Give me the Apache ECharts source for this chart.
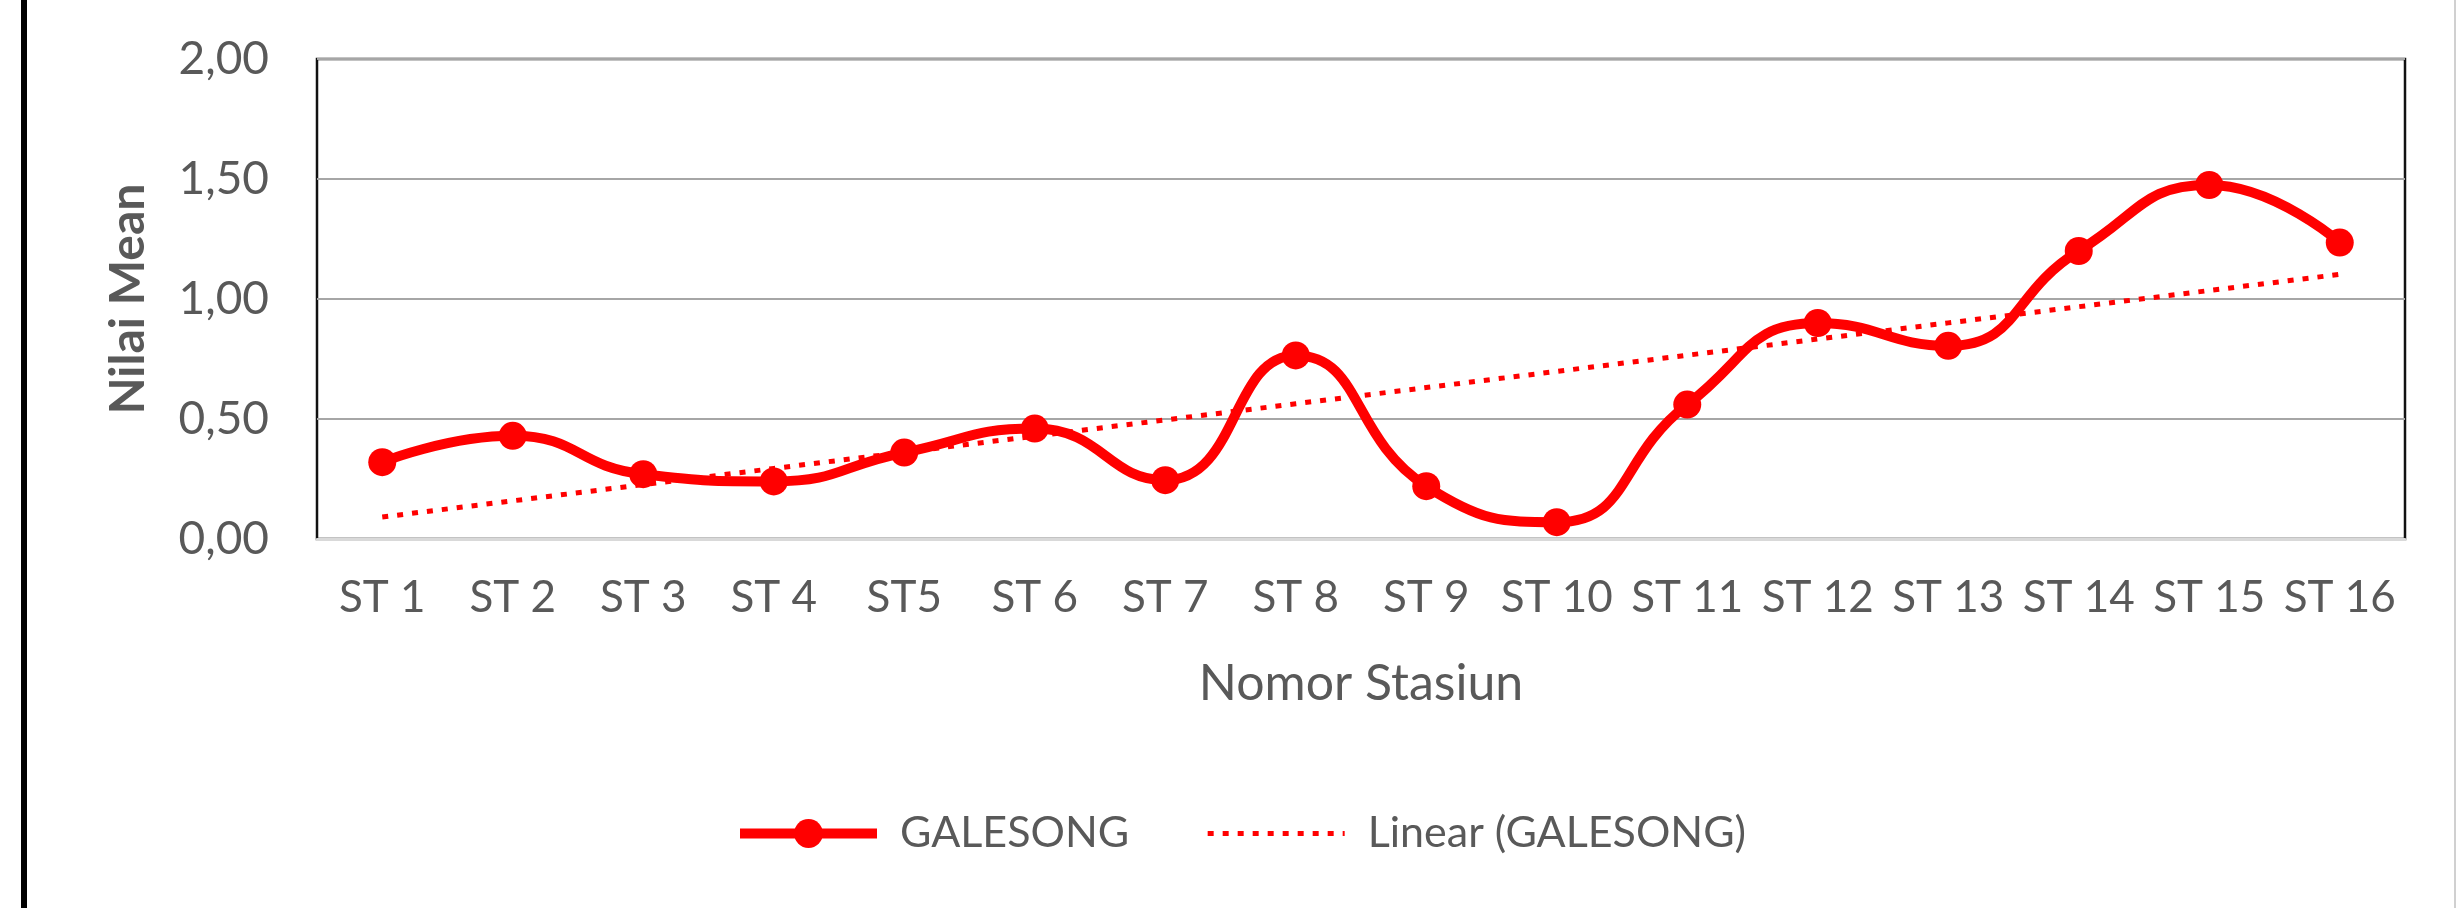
<!DOCTYPE html>
<html>
<head>
<meta charset="utf-8">
<script src="https://cdn.jsdelivr.net/npm/echarts@6/dist/echarts.min.js"></script>
<style>
html,body{margin:0;padding:0;background:#fff;}
#chart{width:2459px;height:908px;}
</style>
</head>
<body>
<div id="chart"></div>
<script>
// ---- data ----
var categories = ['ST 1','ST 2','ST 3','ST 4','ST5','ST 6','ST 7','ST 8','ST 9','ST 10','ST 11','ST 12','ST 13','ST 14','ST 15','ST 16'];
var galesong = [0.32,0.43,0.27,0.24,0.36,0.46,0.245,0.765,0.22,0.07,0.56,0.90,0.805,1.20,1.475,1.235];
var yTicks = [0,0.5,1,1.5,2];
var seriesName = 'GALESONG';
var trendName = 'Linear (GALESONG)';

// least-squares linear trend of the series (as the spreadsheet's "Linear" trendline)
function linearTrend(vals){
  var n = vals.length, sx=0, sy=0, sxx=0, sxy=0;
  for (var i=0;i<n;i++){ var x=i+1; sx+=x; sy+=vals[i]; sxx+=x*x; sxy+=x*vals[i]; }
  var b = (n*sxy - sx*sy)/(n*sxx - sx*sx);
  var a = (sy - b*sx)/n;
  return vals.map(function(_,i){ return +(a + b*(i+1)).toFixed(4); });
}
var trend = linearTrend(galesong);

var FONT = 'Lato';
var GRAY = '#595959';
var chart = echarts.init(document.getElementById('chart'), null, {renderer:'canvas'});
chart.setOption({
  animation:false,
  backgroundColor:'#fff',
  textStyle:{fontFamily:FONT},
  graphic:[
    {type:'rect', left:21, top:0, shape:{width:6, height:908}, style:{fill:'#000'}},
    {type:'rect', left:2454, top:0, shape:{width:2, height:908}, style:{fill:'#d0d0d0'}}
  ],
  grid:{left:317, right:54, top:59, bottom:369, show:true, borderColor:'#111', borderWidth:2.5, backgroundColor:'#fff'},
  legend:{
    bottom:48, left:730,
    itemWidth:137, itemHeight:36, itemGap:76,
    lineStyle:{width:'inherit'},
    textStyle:{fontFamily:FONT, fontSize:43, color:GRAY, padding:[0,0,0,18]},
    data:[{name:seriesName}, {name:trendName, itemStyle:{opacity:0}}]
  },
  xAxis:{
    type:'category', data:categories, boundaryGap:true,
    name:'Nomor Stasiun', nameLocation:'middle', nameGap:120,
    nameTextStyle:{fontFamily:FONT, fontSize:50, color:GRAY},
    axisLine:{show:true, lineStyle:{color:'#d9d9d9', width:3}},
    axisTick:{show:false},
    axisLabel:{interval:0, margin:37, fontFamily:FONT, fontSize:44, color:GRAY},
    splitLine:{show:false}
  },
  yAxis:{
    type:'value', min:yTicks[0], max:yTicks[yTicks.length-1], interval:yTicks[1]-yTicks[0],
    name:'Nilai Mean', nameLocation:'middle', nameGap:164,
    nameTextStyle:{fontFamily:FONT, fontSize:48, fontWeight:'bold', color:GRAY},
    axisLine:{show:false}, axisTick:{show:false},
    axisLabel:{margin:48, fontFamily:FONT, fontSize:46, color:GRAY,
      formatter:function(v){ return v.toFixed(2).replace('.',','); }},
    splitLine:{show:true, lineStyle:{color:'#a6a6a6', width:2}}
  },
  series:[
    {
      name:seriesName, type:'line', data:galesong, smooth:0.5,
      symbol:'circle', symbolSize:28,
      lineStyle:{color:'#ff0000', width:10},
      itemStyle:{color:'#ff0000'},
      z:3
    },
    {
      name:trendName, type:'line', data:trend, smooth:false,
      symbol:'none',
      lineStyle:{color:'#ff0000', width:5, type:[6,9]},
      itemStyle:{color:'#ff0000'},
      z:2
    }
  ]
});
</script>
</body>
</html>
